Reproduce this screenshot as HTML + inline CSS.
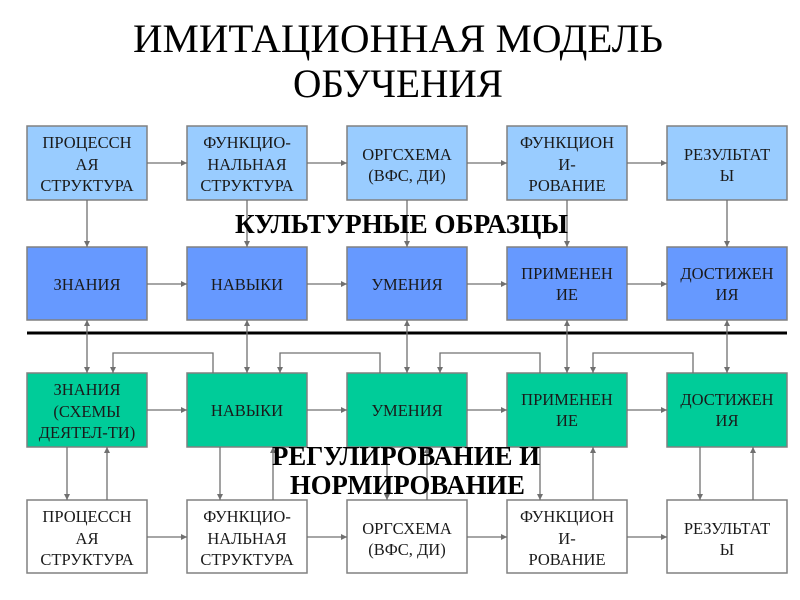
<!DOCTYPE html>
<html><head><meta charset="utf-8"><style>
html,body{margin:0;padding:0;background:#fff;width:800px;height:600px;overflow:hidden}
svg text{font-family:"Liberation Serif","DejaVu Serif",serif}
</style></head><body>
<svg width="800" height="600" viewBox="0 0 800 600" xmlns="http://www.w3.org/2000/svg">
<defs>
<marker id="a" viewBox="0 0 6 6" refX="6" refY="3" markerWidth="6" markerHeight="6" orient="auto" markerUnits="userSpaceOnUse">
<path d="M0,0 L6,3 L0,6 z" fill="#707070"/></marker>
</defs>
<text x="398" y="52" font-size="40" text-anchor="middle" textLength="530" lengthAdjust="spacingAndGlyphs">ИМИТАЦИОННАЯ МОДЕЛЬ</text>
<text x="398" y="97" font-size="40" text-anchor="middle" textLength="210" lengthAdjust="spacingAndGlyphs">ОБУЧЕНИЯ</text>

<g stroke="#808080" stroke-width="1.5">
<rect x="27" y="126" width="120" height="74" fill="#99ccff"/>
<rect x="187" y="126" width="120" height="74" fill="#99ccff"/>
<rect x="347" y="126" width="120" height="74" fill="#99ccff"/>
<rect x="507" y="126" width="120" height="74" fill="#99ccff"/>
<rect x="667" y="126" width="120" height="74" fill="#99ccff"/>
<rect x="27" y="247" width="120" height="73" fill="#6699ff"/>
<rect x="187" y="247" width="120" height="73" fill="#6699ff"/>
<rect x="347" y="247" width="120" height="73" fill="#6699ff"/>
<rect x="507" y="247" width="120" height="73" fill="#6699ff"/>
<rect x="667" y="247" width="120" height="73" fill="#6699ff"/>
<rect x="27" y="373" width="120" height="74" fill="#00cc99"/>
<rect x="187" y="373" width="120" height="74" fill="#00cc99"/>
<rect x="347" y="373" width="120" height="74" fill="#00cc99"/>
<rect x="507" y="373" width="120" height="74" fill="#00cc99"/>
<rect x="667" y="373" width="120" height="74" fill="#00cc99"/>
<rect x="27" y="500" width="120" height="73" fill="#fff"/>
<rect x="187" y="500" width="120" height="73" fill="#fff"/>
<rect x="347" y="500" width="120" height="73" fill="#fff"/>
<rect x="507" y="500" width="120" height="73" fill="#fff"/>
<rect x="667" y="500" width="120" height="73" fill="#fff"/>
</g>

<line x1="27" y1="333" x2="787" y2="333" stroke="#000" stroke-width="3"/>

<g stroke="#707070" stroke-width="1.3" fill="none" marker-end="url(#a)">
<line x1="147" y1="163" x2="187" y2="163"/><line x1="307" y1="163" x2="347" y2="163"/><line x1="467" y1="163" x2="507" y2="163"/><line x1="627" y1="163" x2="667" y2="163"/>
<line x1="147" y1="284" x2="187" y2="284"/><line x1="307" y1="284" x2="347" y2="284"/><line x1="467" y1="284" x2="507" y2="284"/><line x1="627" y1="284" x2="667" y2="284"/>
<line x1="147" y1="410" x2="187" y2="410"/><line x1="307" y1="410" x2="347" y2="410"/><line x1="467" y1="410" x2="507" y2="410"/><line x1="627" y1="410" x2="667" y2="410"/>
<line x1="147" y1="537" x2="187" y2="537"/><line x1="307" y1="537" x2="347" y2="537"/><line x1="467" y1="537" x2="507" y2="537"/><line x1="627" y1="537" x2="667" y2="537"/>
<line x1="87" y1="200" x2="87" y2="247"/><line x1="247" y1="200" x2="247" y2="247"/><line x1="407" y1="200" x2="407" y2="247"/><line x1="567" y1="200" x2="567" y2="247"/><line x1="727" y1="200" x2="727" y2="247"/>
<line x1="87" y1="346" x2="87" y2="373"/><line x1="87" y1="346" x2="87" y2="320"/>
<line x1="247" y1="346" x2="247" y2="373"/><line x1="247" y1="346" x2="247" y2="320"/>
<line x1="407" y1="346" x2="407" y2="373"/><line x1="407" y1="346" x2="407" y2="320"/>
<line x1="567" y1="346" x2="567" y2="373"/><line x1="567" y1="346" x2="567" y2="320"/>
<line x1="727" y1="346" x2="727" y2="373"/><line x1="727" y1="346" x2="727" y2="320"/>
<polyline points="213,373 213,353 113,353 113,373"/>
<polyline points="380,373 380,353 280,353 280,373"/>
<polyline points="540,373 540,353 440,353 440,373"/>
<polyline points="693,373 693,353 593,353 593,373"/>
<line x1="67" y1="447" x2="67" y2="500"/><line x1="107" y1="500" x2="107" y2="447"/>
<line x1="220" y1="447" x2="220" y2="500"/><line x1="273" y1="500" x2="273" y2="447"/>
<line x1="387" y1="447" x2="387" y2="500"/><line x1="427" y1="500" x2="427" y2="447"/>
<line x1="540" y1="447" x2="540" y2="500"/><line x1="593" y1="500" x2="593" y2="447"/>
<line x1="700" y1="447" x2="700" y2="500"/><line x1="753" y1="500" x2="753" y2="447"/>
</g>

<g font-size="16.5" fill="#1a1a1a" text-anchor="middle">
<text x="87" y="148">ПРОЦЕССН</text><text x="87" y="170">АЯ</text><text x="87" y="191">СТРУКТУРА</text>
<text x="247" y="148">ФУНКЦИО-</text><text x="247" y="170">НАЛЬНАЯ</text><text x="247" y="191">СТРУКТУРА</text>
<text x="407" y="160">ОРГСХЕМА</text><text x="407" y="181">(ВФС, ДИ)</text>
<text x="567" y="148">ФУНКЦИОН</text><text x="567" y="170">И-</text><text x="567" y="191">РОВАНИЕ</text>
<text x="727" y="160">РЕЗУЛЬТАТ</text><text x="727" y="181">Ы</text>
<text x="87" y="290">ЗНАНИЯ</text>
<text x="247" y="290">НАВЫКИ</text>
<text x="407" y="290">УМЕНИЯ</text>
<text x="567" y="279">ПРИМЕНЕН</text><text x="567" y="300">ИЕ</text>
<text x="727" y="279">ДОСТИЖЕН</text><text x="727" y="300">ИЯ</text>
<text x="87" y="395">ЗНАНИЯ</text><text x="87" y="417">(СХЕМЫ</text><text x="87" y="438">ДЕЯТЕЛ-ТИ)</text>
<text x="247" y="416">НАВЫКИ</text>
<text x="407" y="416">УМЕНИЯ</text>
<text x="567" y="405">ПРИМЕНЕН</text><text x="567" y="426">ИЕ</text>
<text x="727" y="405">ДОСТИЖЕН</text><text x="727" y="426">ИЯ</text>
<text x="87" y="522">ПРОЦЕССН</text><text x="87" y="544">АЯ</text><text x="87" y="565">СТРУКТУРА</text>
<text x="247" y="522">ФУНКЦИО-</text><text x="247" y="544">НАЛЬНАЯ</text><text x="247" y="565">СТРУКТУРА</text>
<text x="407" y="534">ОРГСХЕМА</text><text x="407" y="555">(ВФС, ДИ)</text>
<text x="567" y="522">ФУНКЦИОН</text><text x="567" y="544">И-</text><text x="567" y="565">РОВАНИЕ</text>
<text x="727" y="534">РЕЗУЛЬТАТ</text><text x="727" y="555">Ы</text>
</g>

<g font-size="27" font-weight="bold" fill="#000">
<text x="235" y="233" textLength="333" lengthAdjust="spacingAndGlyphs">КУЛЬТУРНЫЕ ОБРАЗЦЫ</text>
<text x="272" y="465" textLength="268" lengthAdjust="spacingAndGlyphs">РЕГУЛИРОВАНИЕ И</text>
<text x="290" y="494" textLength="235" lengthAdjust="spacingAndGlyphs">НОРМИРОВАНИЕ</text>
</g>
</svg>
</body></html>
